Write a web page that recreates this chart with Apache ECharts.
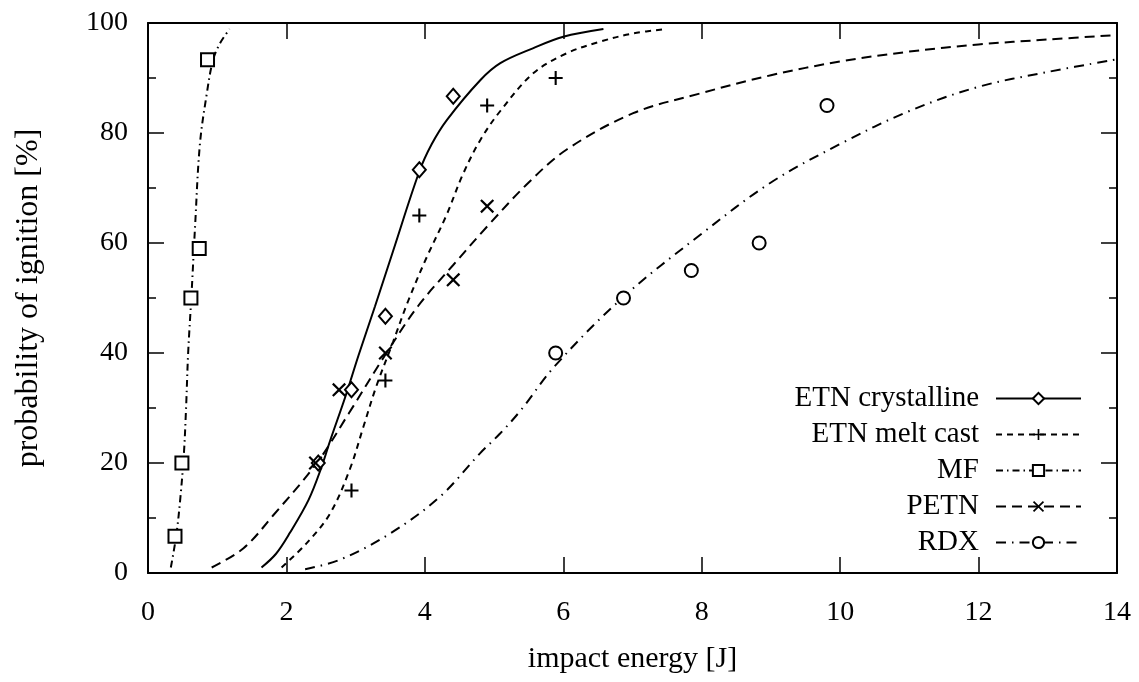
<!DOCTYPE html>
<html>
<head>
<meta charset="utf-8">
<script src="https://cdn.jsdelivr.net/npm/echarts@6/dist/echarts.min.js"></script>
<style>
html, body { margin: 0; padding: 0; background: #fff; }
#chart { width: 1139px; height: 682px; }
</style>
</head>
<body>
<div id="chart"></div>
<script>
// measured drop-hammer results [energy J, probability %]
const seriesNames = ['ETN crystalline', 'ETN melt cast', 'MF', 'PETN', 'RDX']

const etnCrystPoints = [[2.46, 20], [2.94, 33.3], [3.43, 46.7], [3.92, 73.3], [4.41, 86.7]]
const etnMeltPoints = [[2.94, 15], [3.43, 35], [3.92, 65], [4.9, 85], [5.89, 90]]
const mfPoints = [[0.39, 6.7], [0.49, 20], [0.62, 50], [0.74, 59], [0.86, 93.3]]
const petnPoints = [[2.42, 20], [2.76, 33.3], [3.43, 40], [4.41, 53.3], [4.9, 66.7]]
const rdxPoints = [[5.89, 40], [6.87, 50], [7.85, 55], [8.83, 60], [9.81, 85]]

// fitted curves
const etnCrystCurve = [[1.64, 1], [1.85, 3.5], [2.05, 7.3], [2.32, 13.3], [2.5, 19], [2.63, 24], [2.85, 32],
  [3.04, 39.5], [3.28, 48.5], [3.54, 58.5], [3.92, 73], [4.1, 78], [4.32, 82.4], [4.8, 89.6], [5.09, 92.7],
  [5.56, 95.4], [6.0, 97.5], [6.58, 98.9]]
const etnMeltCurve = [[1.93, 1], [2.29, 5.4], [2.63, 10.8], [2.92, 19], [3.11, 26.5], [3.3, 34], [3.54, 42],
  [3.76, 49.5], [4.03, 57.5], [4.31, 65], [4.55, 72.5], [4.8, 78.7], [5.09, 84], [5.57, 90.9], [6.05, 94.5],
  [6.53, 96.6], [7.01, 98.1], [7.49, 98.9]]
const mfCurve = [[0.33, 1], [0.41, 7], [0.47, 14], [0.52, 22], [0.55, 30], [0.58, 40], [0.63, 51], [0.68, 63],
  [0.75, 78], [0.85, 87.2], [0.94, 93.3], [1.04, 96.3], [1.18, 98.9]]
const petnCurve = [[0.92, 1], [1.38, 4.5], [1.81, 10.5], [2.44, 20], [2.9, 29], [3.42, 39.5], [3.9, 48.5],
  [4.41, 56], [4.9, 63], [5.5, 71], [6.05, 77], [7.01, 83.6], [7.98, 87.2], [9, 90.5], [10, 93], [11, 94.8],
  [12, 96.1], [13, 97], [14, 97.8]]
const rdxCurve = [[2.27, 0.7], [2.77, 2.4], [3.5, 7.2], [4.22, 13.9], [4.8, 21.8], [5.09, 25.4], [5.38, 29.5],
  [5.89, 37.8], [6.87, 50.2], [7.98, 61.5], [9, 71], [10, 78], [11, 84], [12, 88.4], [13, 91.1], [14, 93.4]]

const plusPath = 'path://M0,8.5H20V11.5H0ZM8.5,0H11.5V20H8.5Z'
const crossPath = 'path://M2.2,0L10,7.8L17.8,0L20,2.2L12.2,10L20,17.8L17.8,20L10,12.2L2.2,20L0,17.8L7.8,10L0,2.2Z'
const serif = '\'Liberation Serif\', \'DejaVu Serif\', serif'

const chart = echarts.init(document.getElementById('chart'))

const frame = { show: true, onZero: false, lineStyle: { color: '#000', width: 2 } }
const tick = { show: true, inside: true, length: 16, lineStyle: { color: '#000', width: 1.5 } }
const minor = { show: true, splitNumber: 2, length: 8, lineStyle: { color: '#000', width: 1.5 } }
const labelStyle = { color: '#000', fontFamily: serif, fontSize: 28 }

function curve(name, data, type, symbol, symbolSize) {
  return {
    name,
    type: 'line',
    data,
    smooth: 0.35,
    showSymbol: false,
    symbol,
    symbolSize,
    itemStyle: { color: '#000' },
    lineStyle: { color: '#000', width: 2, type },
    z: 2,
  }
}

function marks(name, data, symbol, symbolSize) {
  return {
    name,
    type: 'scatter',
    data,
    symbol,
    symbolSize,
    itemStyle: { color: '#000', opacity: 1 },
    z: 3,
  }
}

chart.setOption({
  animation: false,
  grid: { left: 148, right: 22, top: 23, bottom: 109 },
  xAxis: [
    {
      type: 'value', min: 0, max: 14, interval: 2, position: 'bottom',
      axisLine: frame, axisTick: tick, splitLine: { show: false },
      axisLabel: { ...labelStyle, margin: 26 },
      name: 'impact energy [J]', nameLocation: 'middle', nameGap: 71,
      nameTextStyle: { ...labelStyle, fontSize: 30 },
    },
    {
      type: 'value', min: 0, max: 14, interval: 2, position: 'top',
      axisLine: frame, axisTick: tick, splitLine: { show: false }, axisLabel: { show: false },
    },
  ],
  yAxis: [
    {
      type: 'value', min: 0, max: 100, interval: 20, position: 'left',
      axisLine: frame, axisTick: tick, minorTick: minor, splitLine: { show: false },
      axisLabel: { ...labelStyle, margin: 20 },
      name: 'probability of ignition [%]', nameLocation: 'middle', nameGap: 103,
      nameTextStyle: { ...labelStyle, fontSize: 32 },
    },
    {
      type: 'value', min: 0, max: 100, interval: 20, position: 'right',
      axisLine: frame, axisTick: tick, minorTick: minor, splitLine: { show: false }, axisLabel: { show: false },
    },
  ],
  legend: {
    data: seriesNames,
    orient: 'vertical',
    align: 'right',
    right: 57,
    bottom: 125,
    padding: 0,
    itemWidth: 85,
    itemHeight: 14,
    itemGap: 7,
    textStyle: { color: '#000', fontFamily: serif, fontSize: 29, padding: [0, 12, 0, 0] },
  },
  series: [
    curve('ETN crystalline', etnCrystCurve, 'solid', 'emptyDiamond', 12),
    curve('ETN melt cast', etnMeltCurve, [6, 5], plusPath, 13),
    curve('MF', mfCurve, [7, 4, 1.5, 4], 'emptyRect', 12),
    curve('PETN', petnCurve, [10, 6], crossPath, 13),
    curve('RDX', rdxCurve, [10, 6, 1.5, 6], 'emptyCircle', 12),
    marks('ETN crystalline', etnCrystPoints, 'emptyDiamond', [13, 15]),
    marks('ETN melt cast', etnMeltPoints, plusPath, 14),
    marks('MF', mfPoints, 'emptyRect', 13),
    marks('PETN', petnPoints, crossPath, 14),
    marks('RDX', rdxPoints, 'emptyCircle', 13),
  ],
})
</script>
</body>
</html>
